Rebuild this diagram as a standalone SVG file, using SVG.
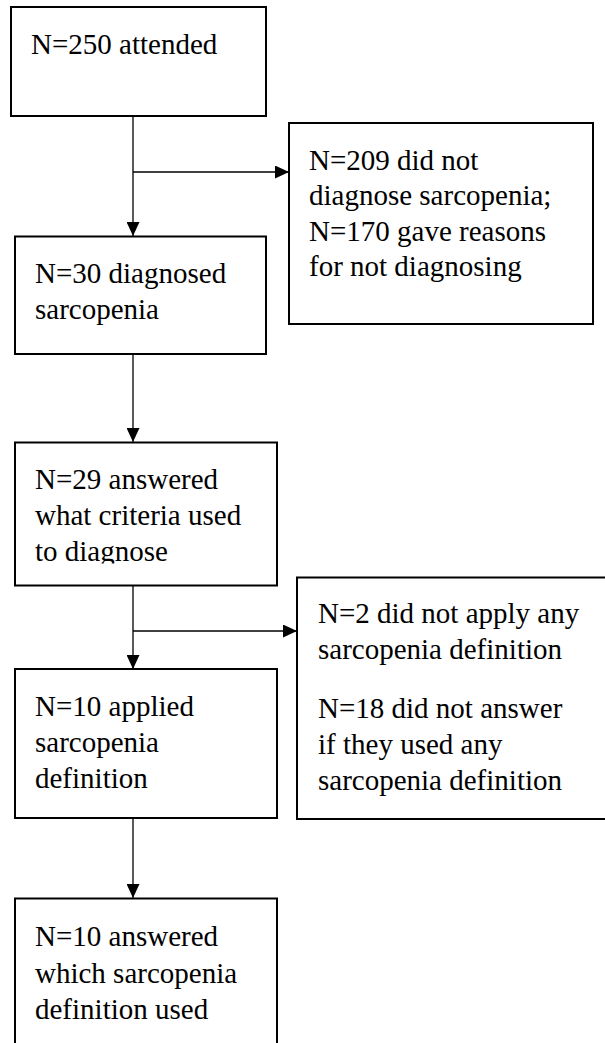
<svg xmlns="http://www.w3.org/2000/svg" width="605" height="1043" viewBox="0 0 605 1043">
<style>
.box{fill:#fff;stroke:#000;stroke-width:2}
.t{font-family:"Liberation Serif","Times New Roman",serif;font-size:29px;fill:#000}
.c{stroke:#000;stroke-width:1.3;fill:none}
</style>
<defs>
<marker id="ah" viewBox="0 0 14 13" refX="14" refY="6.5" markerWidth="14" markerHeight="13" orient="auto" markerUnits="userSpaceOnUse">
<path d="M0,0 L14,6.5 L0,13 z" fill="#000"/>
</marker>
<clipPath id="clip3"><rect x="15" y="443" width="262" height="120.5"/></clipPath>
</defs>
<rect width="605" height="1043" fill="#fff"/>
<g id="connectors">
<line class="c" x1="133" y1="116" x2="133" y2="236" marker-end="url(#ah)"/>
<line class="c" x1="133" y1="172" x2="289" y2="172" marker-end="url(#ah)"/>
<line class="c" x1="133" y1="354" x2="133" y2="442" marker-end="url(#ah)"/>
<line class="c" x1="133" y1="586" x2="133" y2="669" marker-end="url(#ah)"/>
<line class="c" x1="133" y1="631" x2="297" y2="631" marker-end="url(#ah)"/>
<line class="c" x1="133" y1="818" x2="133" y2="898" marker-end="url(#ah)"/>
</g>
<g id="n250">
<rect class="box" x="11" y="7" width="255" height="109"/>
<text class="t" x="31" y="54">N=250 attended</text>
</g>
<g id="n209">
<rect class="box" x="289" y="123" width="304" height="201"/>
<text class="t" x="309" y="169.5">N=209 did not</text>
<text class="t" x="309" y="205">diagnose sarcopenia;</text>
<text class="t" x="309" y="240.5">N=170 gave reasons</text>
<text class="t" x="309" y="276">for not diagnosing</text>
</g>
<g id="n30">
<rect class="box" x="15" y="236.5" width="251" height="117.5"/>
<text class="t" x="35" y="283">N=30 diagnosed</text>
<text class="t" x="35" y="319">sarcopenia</text>
</g>
<g id="n29">
<rect class="box" x="15" y="442.5" width="262" height="143"/>
<g clip-path="url(#clip3)">
<text class="t" x="35" y="489">N=29 answered</text>
<text class="t" x="35" y="525">what criteria used</text>
<text class="t" x="35" y="561">to diagnose</text>
</g>
</g>
<g id="n2">
<rect class="box" x="297" y="577.5" width="320" height="241.5"/>
<text class="t" x="318" y="623">N=2 did not apply any</text>
<text class="t" x="318" y="659">sarcopenia definition</text>
<text class="t" x="318" y="718">N=18 did not answer</text>
<text class="t" x="318" y="754">if they used any</text>
<text class="t" x="318" y="790">sarcopenia definition</text>
</g>
<g id="n10a">
<rect class="box" x="15" y="669" width="262" height="149"/>
<text class="t" x="35" y="716">N=10 applied</text>
<text class="t" x="35" y="752">sarcopenia</text>
<text class="t" x="35" y="788">definition</text>
</g>
<g id="n10b">
<rect class="box" x="15" y="898.5" width="262" height="160"/>
<text class="t" x="35" y="946">N=10 answered</text>
<text class="t" x="35" y="983">which sarcopenia</text>
<text class="t" x="35" y="1019">definition used</text>
</g>
</svg>
